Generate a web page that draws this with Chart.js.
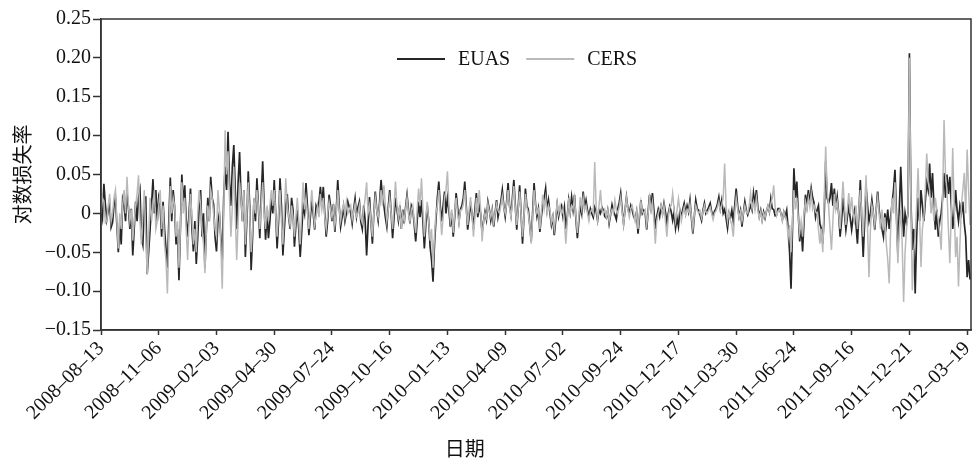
<!DOCTYPE html>
<html>
<head>
<meta charset="utf-8">
<script src="https://cdn.jsdelivr.net/npm/chart.js@4"></script>
<style>
  html, body { margin: 0; padding: 0; background: #fff; }
</style>
</head>
<body>
<canvas id="chart_returns" width="974" height="459"></canvas>
<script>
// date labels, one every 60 trading days
const tickLabels = [
    "2008–08–13", "2008–11–06", "2009–02–03", "2009–04–30", "2009–07–24", "2009–10–16",
    "2010–01–13", "2010–04–09", "2010–07–02", "2010–09–24", "2010–12–17", "2011–03–30",
    "2011–06–24", "2011–09–16", "2011–12–21", "2012–03–19",
];
const tickEvery = 60;
const sampleStep = 1.5; // trading days between readings below

// daily log returns, one line per 60-day block
const euas = [
    0.005, -0.006, 0.038, 0.012, -0.008, 0.004, 0.012, -0.018, -0.012, 0.01, 0.02, -0.015, -0.05, -0.012, -0.04, 0.018, 0.01, -0.01, 0.025, 0.008, -0.02, 0.006, -0.054, -0.02, 0.015, -0.01, 0.02, 0.03, -0.03, -0.04, 0.01, 0.022, -0.078, -0.05, -0.02, 0.01, 0.044, 0.0, 0.03, -0.01,
    0.02, 0.01, -0.03, 0.015, -0.02, -0.045, -0.07, -0.01, 0.046, -0.01, 0.03, 0.008, -0.04, -0.02, -0.086, -0.02, 0.05, 0.01, 0.036, -0.008, -0.03, 0.0, 0.032, -0.02, -0.049, -0.01, -0.065, -0.03, 0.01, 0.03, -0.03, 0.0, -0.07, -0.02, 0.02, -0.01, 0.047, 0.02, 0.012, -0.03,
    -0.049, -0.01, 0.0, -0.03, -0.06, 0.02, 0.06, 0.03, 0.105, 0.04, 0.01, 0.06, 0.088, 0.03, -0.02, 0.04, 0.079, 0.02, -0.01, 0.03, -0.056, -0.01, 0.054, 0.01, -0.073, -0.03, 0.019, -0.01, 0.045, 0.01, -0.032, 0.02, 0.067, 0.01, -0.034, 0.0, -0.032, -0.01, 0.02, 0.0,
    0.043, 0.0, -0.045, -0.01, 0.045, 0.01, -0.054, -0.02, 0.01, 0.025, -0.005, -0.02, 0.02, 0.005, -0.043, -0.015, 0.005, -0.02, -0.056, -0.025, 0.01, 0.0, 0.039, 0.01, -0.028, -0.005, 0.015, 0.0, -0.021, 0.01, 0.005, 0.015, 0.034, 0.01, 0.034, 0.0, -0.03, -0.01, 0.024, 0.01,
    -0.01, 0.012, -0.024, 0.005, 0.043, 0.01, -0.017, -0.005, 0.009, -0.01, 0.0, 0.015, 0.008, 0.0, -0.013, 0.005, 0.019, -0.004, 0.008, 0.015, -0.011, -0.02, 0.01, -0.01, -0.054, -0.015, 0.021, -0.01, -0.039, 0.0, 0.028, 0.005, -0.009, 0.015, 0.043, 0.02, 0.01, -0.005, -0.017, 0.008,
    0.03, 0.0, -0.032, -0.005, 0.02, 0.005, -0.009, 0.01, -0.02, 0.005, -0.013, 0.008, 0.024, 0.005, -0.013, 0.01, 0.005, -0.015, -0.036, -0.01, 0.015, -0.005, 0.017, -0.01, -0.045, -0.015, 0.01, -0.01, -0.043, -0.06, -0.088, -0.04, -0.009, 0.02, 0.041, 0.01, -0.01, 0.01, 0.028, 0.0,
    0.02, 0.005, -0.017, 0.0, -0.03, -0.005, 0.026, 0.008, -0.01, 0.005, 0.01, 0.02, 0.041, 0.01, -0.021, -0.005, 0.012, 0.0, -0.02, 0.005, 0.026, -0.005, 0.01, 0.0, -0.025, -0.01, 0.002, -0.008, 0.015, 0.005, -0.009, 0.004, -0.017, 0.0, 0.017, -0.005, 0.005, 0.015, 0.03, 0.01,
    -0.004, 0.015, 0.039, 0.01, -0.002, 0.02, 0.043, 0.01, -0.021, 0.008, 0.036, 0.0, -0.039, -0.005, 0.032, 0.01, 0.005, -0.015, -0.036, 0.0, 0.039, 0.012, -0.004, 0.006, -0.024, -0.005, 0.01, 0.02, 0.032, 0.005, 0.017, 0.0, -0.015, -0.005, -0.028, -0.008, 0.011, -0.004, 0.006, 0.01,
    -0.004, 0.008, -0.02, -0.004, 0.017, 0.002, 0.021, 0.005, 0.024, -0.008, -0.032, -0.01, 0.01, 0.0, 0.028, 0.008, 0.017, 0.004, -0.004, 0.006, 0.0, -0.005, 0.008, 0.003, -0.009, 0.004, 0.0, 0.008, 0.004, -0.004, -0.006, 0.004, -0.013, -0.002, 0.011, 0.003, -0.002, -0.008, 0.006, 0.014,
    0.026, 0.005, -0.013, 0.004, 0.021, 0.006, 0.0, 0.01, 0.004, -0.004, -0.008, 0.002, -0.026, -0.005, 0.017, 0.0, 0.004, 0.0, -0.021, 0.002, 0.024, 0.008, 0.026, 0.004, -0.02, -0.004, 0.005, -0.004, 0.009, 0.0, 0.013, 0.002, -0.012, 0.0, 0.009, 0.002, -0.009, 0.002, -0.019, -0.006,
    -0.017, 0.004, -0.004, 0.005, 0.013, 0.0, 0.01, 0.002, 0.017, -0.006, -0.026, -0.004, 0.017, 0.006, 0.004, -0.002, -0.009, 0.004, 0.013, 0.0, 0.004, 0.008, 0.013, 0.002, -0.004, 0.003, 0.006, 0.012, 0.021, 0.006, 0.017, 0.0, 0.005, -0.006, -0.019, 0.0, -0.006, 0.004, -0.01, 0.01,
    0.032, 0.01, -0.004, 0.004, -0.017, 0.0, 0.015, 0.004, -0.002, 0.004, 0.01, 0.004, 0.026, 0.012, 0.03, 0.008, -0.004, 0.004, -0.008, 0.002, -0.006, 0.003, 0.009, 0.002, 0.019, 0.006, 0.005, -0.003, -0.002, 0.006, 0.006, 0.0, -0.008, 0.002, -0.004, 0.004, -0.02, -0.05, -0.097, -0.02,
    0.058, 0.02, 0.041, 0.0, -0.036, -0.015, -0.049, -0.01, 0.024, 0.01, 0.03, 0.012, 0.032, 0.02, 0.013, -0.005, 0.004, 0.01, -0.013, -0.02, -0.039, 0.0, 0.067, 0.02, 0.013, 0.02, 0.039, 0.01, 0.032, 0.005, 0.021, 0.0, -0.03, -0.01, 0.02, 0.0, -0.021, -0.005, 0.01, -0.006,
    -0.021, -0.005, 0.004, -0.015, -0.039, 0.0, 0.043, -0.01, -0.056, -0.01, 0.034, 0.01, -0.01, 0.0, 0.017, 0.0, -0.021, 0.005, 0.028, 0.005, -0.01, -0.02, -0.03, 0.0, -0.015, 0.005, -0.02, -0.005, 0.013, 0.03, 0.056, 0.0, -0.052, 0.005, 0.06, 0.01, -0.03, 0.0, -0.013, 0.0,
    0.206, 0.02, -0.047, -0.02, -0.103, -0.03, 0.02, -0.01, 0.03, 0.01, -0.01, 0.015, 0.04, 0.03, 0.064, 0.02, 0.052, 0.01, -0.021, 0.005, -0.03, -0.01, 0.0, 0.02, 0.052, 0.02, 0.05, 0.025, 0.047, 0.01, -0.02, 0.0, 0.03, 0.005, -0.01, 0.01, 0.0, 0.015, -0.013, -0.03, -0.082, -0.06, -0.085,
];
const cers = [
    0.0, 0.02, 0.015, -0.012, -0.01, 0.01, 0.025, -0.01, 0.0, 0.02, 0.03, -0.01, -0.045, 0.0, -0.02, 0.01, 0.03, 0.0, 0.047, 0.01, -0.01, 0.005, -0.035, -0.01, 0.01, 0.025, 0.049, -0.01, -0.04, 0.0, 0.03, -0.03, -0.079, -0.03, 0.02, -0.01, 0.01, 0.03, -0.02, -0.01,
    0.01, 0.03, -0.02, 0.01, -0.04, -0.06, -0.103, -0.03, 0.035, 0.0, 0.02, 0.01, -0.03, -0.01, -0.07, -0.02, 0.04, 0.0, 0.02, -0.02, -0.06, -0.01, 0.025, -0.005, -0.04, -0.02, -0.05, 0.0, 0.03, 0.01, -0.02, -0.04, -0.077, -0.02, 0.01, -0.01, 0.03, 0.02, 0.0, -0.02,
    -0.03, 0.03, 0.006, -0.04, -0.097, 0.0, 0.107, 0.05, 0.08, 0.02, -0.03, 0.01, 0.06, 0.0, -0.06, -0.01, 0.04, 0.02, -0.01, 0.03, -0.04, 0.0, 0.04, 0.0, -0.05, -0.02, 0.02, 0.0, 0.03, 0.01, -0.02, 0.01, 0.04, 0.0, -0.02, 0.01, -0.01, 0.01, 0.03, 0.01,
    0.03, 0.0, -0.03, 0.0, 0.03, -0.01, -0.04, 0.0, 0.045, 0.01, -0.004, -0.015, 0.01, -0.005, -0.03, -0.005, 0.02, -0.01, -0.04, 0.0, 0.04, 0.005, 0.02, 0.0, -0.02, 0.005, 0.03, 0.005, -0.015, -0.004, 0.01, -0.005, 0.025, 0.005, 0.02, -0.005, -0.02, 0.0, 0.015, 0.005,
    -0.005, 0.008, -0.015, 0.0, 0.03, 0.005, -0.01, 0.004, 0.012, -0.004, 0.015, 0.0, 0.005, 0.01, -0.008, 0.002, 0.012, -0.004, 0.0, 0.01, -0.006, -0.012, 0.005, 0.02, 0.04, 0.0, 0.01, -0.01, -0.03, 0.0, 0.02, 0.004, -0.005, 0.01, 0.03, 0.01, 0.036, 0.01, -0.01, 0.005,
    0.02, 0.0, -0.02, 0.01, 0.041, 0.01, -0.005, 0.008, -0.02, 0.0, -0.01, 0.005, 0.02, 0.0, -0.01, 0.004, 0.01, -0.01, -0.025, 0.005, 0.032, 0.01, 0.045, 0.005, -0.03, -0.005, 0.015, -0.01, -0.035, -0.02, -0.07, -0.03, 0.0, 0.01, 0.03, 0.0, -0.028, -0.005, 0.02, 0.03,
    0.054, 0.01, -0.01, 0.005, -0.025, 0.0, 0.02, 0.0, -0.013, 0.004, 0.005, 0.012, 0.03, 0.005, -0.015, 0.004, 0.021, 0.0, -0.03, -0.005, 0.02, 0.0, 0.03, 0.005, -0.036, -0.01, 0.0, -0.006, 0.012, 0.002, -0.005, 0.004, -0.012, 0.0, 0.012, 0.004, 0.0, 0.01, 0.022, 0.008,
    0.0, 0.012, 0.03, 0.008, -0.005, 0.015, 0.035, 0.006, -0.015, 0.006, 0.028, 0.0, -0.03, -0.004, 0.025, 0.008, 0.0, -0.015, -0.039, -0.005, 0.03, 0.01, 0.0, 0.005, -0.02, 0.0, 0.024, 0.006, 0.02, 0.0, 0.01, 0.004, -0.012, -0.004, -0.02, -0.004, 0.013, 0.0, 0.01, 0.0,
    0.005, -0.01, -0.039, -0.01, 0.02, 0.0, 0.01, 0.006, 0.02, -0.004, -0.025, -0.004, 0.021, 0.006, 0.02, 0.004, 0.01, 0.0, -0.01, 0.002, 0.005, 0.0, 0.066, 0.01, -0.008, 0.01, 0.03, 0.005, 0.0, 0.005, -0.005, 0.004, -0.01, 0.0, 0.005, 0.0, 0.017, 0.004, 0.0, 0.008,
    0.02, 0.002, -0.015, 0.004, 0.02, 0.004, -0.005, 0.006, 0.01, 0.0, -0.01, 0.002, -0.02, 0.0, 0.015, 0.002, 0.0, 0.004, -0.015, 0.0, 0.02, 0.004, 0.015, -0.008, -0.039, -0.01, 0.0, 0.006, 0.01, -0.002, 0.01, -0.01, -0.03, -0.005, 0.008, 0.01, 0.026, 0.005, -0.01, 0.004,
    0.019, 0.004, -0.01, 0.0, 0.008, -0.002, 0.005, 0.002, 0.012, -0.004, -0.02, -0.002, 0.01, 0.004, 0.0, 0.003, -0.006, 0.002, 0.01, 0.002, 0.0, 0.004, 0.008, 0.0, -0.008, 0.0, 0.003, 0.008, 0.015, 0.004, 0.01, 0.02, 0.064, 0.01, -0.01, 0.002, -0.009, -0.015, -0.03, 0.0,
    0.02, 0.006, -0.006, 0.002, -0.01, 0.0, 0.01, 0.002, 0.0, 0.01, 0.026, 0.006, 0.015, 0.004, 0.02, 0.004, -0.006, 0.002, -0.01, 0.0, -0.005, 0.003, 0.01, 0.002, 0.012, 0.02, 0.036, 0.008, -0.003, 0.003, 0.005, 0.0, -0.01, 0.002, -0.005, -0.01, -0.03, -0.015, -0.05, -0.01,
    0.03, 0.005, 0.02, -0.005, -0.025, -0.01, -0.03, 0.0, 0.015, 0.005, 0.02, 0.008, 0.025, 0.005, 0.01, 0.002, 0.0, -0.02, -0.039, -0.02, -0.05, 0.02, 0.086, 0.03, 0.01, -0.02, -0.047, -0.01, 0.025, 0.005, 0.015, 0.0, -0.02, 0.01, 0.041, 0.01, -0.015, 0.005, 0.026, 0.0,
    0.021, 0.0, -0.01, 0.01, -0.02, 0.005, 0.03, 0.0, -0.03, 0.01, 0.049, -0.02, -0.082, -0.02, 0.01, 0.0, -0.015, 0.005, 0.02, 0.0, -0.02, 0.005, -0.022, -0.005, -0.039, -0.06, -0.09, -0.02, 0.02, 0.0, 0.04, -0.01, -0.064, -0.02, 0.005, -0.04, -0.114, -0.05, -0.02, 0.0,
    0.2, 0.02, -0.099, -0.05, -0.03, 0.01, 0.058, 0.0, -0.069, -0.02, -0.005, 0.03, 0.077, 0.04, 0.03, 0.0, 0.02, -0.01, 0.02, 0.005, -0.01, -0.025, -0.047, 0.02, 0.12, 0.05, 0.03, -0.02, -0.064, 0.0, 0.084, 0.01, -0.056, -0.03, -0.094, -0.04, 0.01, 0.03, 0.052, 0.0, 0.082, 0.03, -0.015,
];

const serif = "'Liberation Serif', 'Times New Roman', serif";
const cjk = "'Noto Sans CJK SC', sans-serif";
const ink = "#111";
const axisColor = "#333";

const toPoints = (arr) => arr.map((v, i) => ({ x: i * sampleStep, y: v }));

// box round the plot area
const frame = {
    id: "frame",
    afterDatasetsDraw(chart) {
        const { ctx, chartArea: a } = chart;
        ctx.save();
        ctx.strokeStyle = axisColor;
        ctx.lineWidth = 1.5;
        ctx.strokeRect(a.left, a.top, a.right - a.left, a.bottom - a.top);
        ctx.restore();
    },
};

// legend sits inside the plot, x title is off-centre like the original
const extras = {
    id: "extras",
    afterDraw(chart) {
        const { ctx, chartArea: a } = chart;
        ctx.save();
        ctx.font = "20px " + serif;
        ctx.textBaseline = "middle";
        let x = a.left + 296;
        const y = a.top + 40;
        chart.data.datasets.forEach((ds) => {
            ctx.strokeStyle = ds.borderColor;
            ctx.lineWidth = 2;
            ctx.beginPath();
            ctx.moveTo(x, y);
            ctx.lineTo(x + 48, y);
            ctx.stroke();
            ctx.fillStyle = ink;
            ctx.fillText(ds.label, x + 61, y + 1);
            x += 61 + ctx.measureText(ds.label).width + 16;
        });
        ctx.font = "20px " + cjk;
        ctx.textAlign = "center";
        ctx.fillText("日期", a.left + 0.418 * (a.right - a.left), chart.height - 11);
        ctx.restore();
    },
};

const data = {
    datasets: [
        {
            label: "EUAS",
            data: toPoints(euas),
            borderColor: "#262626",
            borderWidth: 1.7,
            order: 1,
        },
        {
            label: "CERS",
            data: toPoints(cers),
            borderColor: "#b9b9b9",
            borderWidth: 1.5,
            order: 0,
        },
    ],
};

const config = {
    type: "line",
    data: data,
    options: {
        responsive: false,
        animation: false,
        layout: { padding: { top: 19, right: 3, left: 0, bottom: 0 } },
        elements: { point: { radius: 0 }, line: { tension: 0 } },
        plugins: { legend: { display: false }, tooltip: { enabled: false } },
        scales: {
            x: {
                type: "linear",
                min: 0,
                max: 904,
                afterBuildTicks: (s) => {
                    s.ticks = tickLabels.map((_, i) => ({ value: i * tickEvery }));
                },
                afterFit: (s) => {
                    s.height = 129;
                    s.paddingLeft = 0;
                    s.paddingRight = 0;
                },
                ticks: {
                    callback: (v, i) => tickLabels[i],
                    autoSkip: false,
                    minRotation: 45,
                    maxRotation: 45,
                    padding: 2,
                    color: ink,
                    font: { family: serif, size: 20 },
                },
                grid: { drawOnChartArea: false, tickLength: 5, tickColor: axisColor, tickWidth: 1.5 },
                border: { color: axisColor, width: 1.5 },
            },
            y: {
                min: -0.15,
                max: 0.25,
                afterFit: (s) => { s.width = 101; },
                ticks: {
                    stepSize: 0.05,
                    padding: 2,
                    color: ink,
                    font: { family: serif, size: 20 },
                    callback: (v) => {
                        const r = Math.round(v * 100) / 100;
                        if (r === 0) return "0";
                        return (r < 0 ? "−" : "") + Math.abs(r).toFixed(2);
                    },
                },
                grid: { drawOnChartArea: false, tickLength: 8, tickColor: axisColor, tickWidth: 1.5 },
                border: { color: axisColor, width: 1.5 },
                title: {
                    display: true,
                    text: "对数损失率",
                    color: ink,
                    font: { family: cjk, size: 20 },
                    padding: { top: 10, bottom: 0 },
                },
            },
        },
    },
    plugins: [frame, extras],
};

const ctxReturns = document.getElementById("chart_returns");
const returnsChart = new Chart(ctxReturns, config);
</script>
</body>
</html>
